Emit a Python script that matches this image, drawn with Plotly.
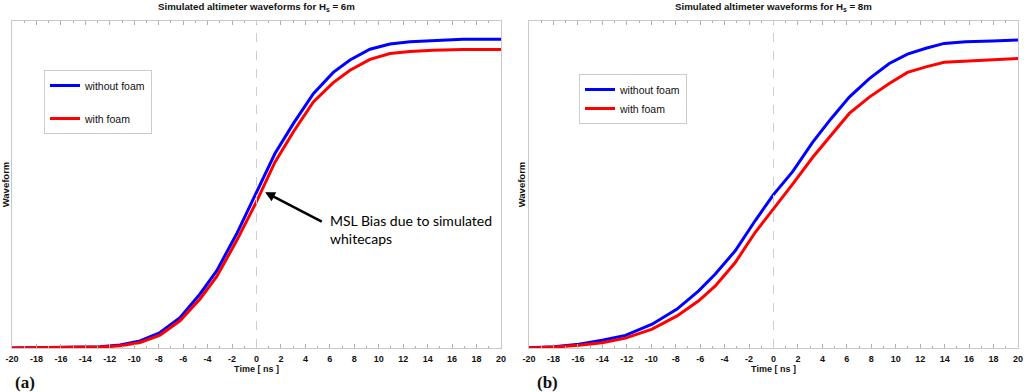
import plotly.graph_objects as go

# ---- data (panel a: Hs = 6 m) ----
t_a_blue = [-20, -16, -14, -12.8, -11.17, -9.53, -7.89, -6.26, -4.62, -3.26, -1.62, 0.0,
            1.51, 3.01, 4.65, 6.28, 7.65, 9.28, 10.92, 12.56, 14.44, 16.89, 20]
wf_a_blue = [0.0, 0.001, 0.002, 0.004, 0.010, 0.023, 0.050, 0.098, 0.175, 0.250, 0.370, 0.504,
             0.630, 0.727, 0.824, 0.893, 0.933, 0.968, 0.985, 0.992, 0.995, 1.0, 1.0]
t_a_red = [-20, -14, -12.8, -11.17, -9.53, -7.89, -6.26, -4.62, -3.26, -1.62, 0.0,
           1.51, 3.01, 4.65, 6.28, 7.65, 9.28, 10.92, 12.56, 14.44, 16.89, 20]
wf_a_red = [0.0, 0.002, 0.003, 0.007, 0.018, 0.042, 0.088, 0.159, 0.231, 0.348, 0.474,
            0.602, 0.700, 0.797, 0.860, 0.900, 0.935, 0.954, 0.961, 0.965, 0.967, 0.967]

# ---- data (panel b: Hs = 8 m) ----
t_b = [-20, -17.96, -15.92, -14.02, -12.11, -9.93, -7.89, -6.12, -4.76, -3.13, -1.49, 0.0,
       1.58, 3.21, 4.71, 6.20, 7.84, 9.47, 10.96, 12.47, 13.96, 15.73, 17.90, 20]
wf_b_blue = [0.001, 0.004, 0.012, 0.025, 0.041, 0.077, 0.126, 0.185, 0.240, 0.315, 0.413, 0.497,
             0.572, 0.667, 0.743, 0.813, 0.873, 0.922, 0.952, 0.971, 0.987, 0.992, 0.995, 0.998]
wf_b_red = [0.0, 0.003, 0.009, 0.017, 0.032, 0.061, 0.104, 0.153, 0.201, 0.277, 0.375, 0.450,
            0.532, 0.618, 0.689, 0.760, 0.813, 0.857, 0.893, 0.911, 0.926, 0.929, 0.935, 0.938]

series_names = ["without foam", "with foam"]
titles = ["Simulated altimeter waveforms for H<sub>s</sub> = 6m",
          "Simulated altimeter waveforms for H<sub>s</sub> = 8m"]
panel_labels = ["(a)", "(b)"]
tick_vals = list(range(-20, 21, 2))
tick_text = ["<b>%d</b>" % v for v in tick_vals]

BLUE = "#0000ff"
RED = "#ff0000"
FONT = "Liberation Sans, Arial, sans-serif"

fig = go.Figure()
fig.add_trace(go.Scatter(x=t_a_blue, y=wf_a_blue, mode="lines", name=series_names[0],
                         line=dict(color=BLUE, width=3), xaxis="x", yaxis="y",
                         legend="legend", legendgroup="a1"))
fig.add_trace(go.Scatter(x=t_a_red, y=wf_a_red, mode="lines", name=series_names[1],
                         line=dict(color=RED, width=3), xaxis="x", yaxis="y",
                         legend="legend", legendgroup="a2"))
fig.add_trace(go.Scatter(x=t_b, y=wf_b_blue, mode="lines", name=series_names[0],
                         line=dict(color=BLUE, width=3), xaxis="x2", yaxis="y2",
                         legend="legend2", legendgroup="b1"))
fig.add_trace(go.Scatter(x=t_b, y=wf_b_red, mode="lines", name=series_names[1],
                         line=dict(color=RED, width=3), xaxis="x2", yaxis="y2",
                         legend="legend2", legendgroup="b2"))

W, H = 1024, 392
ydom = [1 - 348 / H, 1 - 21 / H]
xdom1 = [12 / W, 501 / W]
xdom2 = [529 / W, 1018 / W]

def xaxis_cfg(dom, anchor):
    return dict(domain=dom, anchor=anchor, range=[-20, 20], tickmode="array",
                tickvals=tick_vals, ticktext=tick_text, ticks="inside", ticklen=4,
                tickcolor="#b0b0b0", showline=True, linecolor="#c8c8c8", linewidth=1,
                mirror="ticks", showgrid=False, zeroline=False,
                minor=dict(ticks="inside", ticklen=2, dtick=1, tickcolor="#b0b0b0"),
                tickfont=dict(family=FONT, size=9, color="#111"),
                ticklabeloverflow="allow",
                title=dict(text="<b>Time [ ns ]</b>", font=dict(family=FONT, size=9, color="#111"),
                           standoff=2),
                ticklabelstandoff=2, automargin=False)

def yaxis_cfg(anchor):
    return dict(domain=ydom, anchor=anchor, range=[0, 1.0595], showticklabels=False,
                ticks="", showline=True, linecolor="#c8c8c8", linewidth=1, mirror=True,
                showgrid=False, zeroline=False,
                title=dict(text="<b>Waveform</b>", font=dict(family=FONT, size=9.5, color="#111"),
                           standoff=0),
                automargin=False)

fig.update_layout(
    width=W, height=H, margin=dict(l=0, r=0, t=0, b=0),
    plot_bgcolor="white", paper_bgcolor="white",
    xaxis=xaxis_cfg(xdom1, "y"), yaxis=yaxis_cfg("x"),
    xaxis2=xaxis_cfg(xdom2, "y2"), yaxis2=yaxis_cfg("x2"),
    legend=dict(x=44 / W, y=1 - 70 / H, xanchor="left", yanchor="top",
                bordercolor="#cccccc", borderwidth=1, bgcolor="white",
                font=dict(family=FONT, size=10.5, color="#111"),
                traceorder="grouped", tracegroupgap=14, itemwidth=30,
                entrywidth=136, entrywidthmode="pixels"),
    legend2=dict(x=579 / W, y=1 - 74 / H, xanchor="left", yanchor="top",
                 bordercolor="#cccccc", borderwidth=1, bgcolor="white",
                 font=dict(family=FONT, size=10.5, color="#111"),
                 traceorder="grouped", tracegroupgap=0, itemwidth=30),
    showlegend=True,
)

# vertical dashed line at t = 0
for xr, yr in [("x", "y domain"), ("x2", "y2 domain")]:
    fig.add_shape(type="line", xref=xr, yref=yr, x0=0, x1=0, y0=0, y1=1,
                  line=dict(color="#cfcfcf", width=1, dash="dash"))

# titles
for i, dom in enumerate([xdom1, xdom2]):
    fig.add_annotation(xref="paper", yref="paper", x=(dom[0] + dom[1]) / 2, y=1 - 7 / H,
                       text="<b>" + titles[i] + "</b>", showarrow=False, xanchor="center",
                       font=dict(family=FONT, size=9.7, color="#111"), yanchor="middle")
# panel labels
fig.add_annotation(xref="paper", yref="paper", x=25 / W, y=1 - 382 / H, text="<b>" + panel_labels[0] + "</b>",
                   showarrow=False, xanchor="center", yanchor="middle",
                   font=dict(family="Liberation Serif, Times New Roman, serif", size=17, color="#111"))
fig.add_annotation(xref="paper", yref="paper", x=547 / W, y=1 - 382 / H, text="<b>" + panel_labels[1] + "</b>",
                   showarrow=False, xanchor="center", yanchor="middle",
                   font=dict(family="Liberation Serif, Times New Roman, serif", size=17, color="#111"))

# MSL bias annotation
fig.add_annotation(xref="x", yref="y", x=0.70, y=0.505, ax=5.46, ay=0.407, axref="x", ayref="y",
                   text="", showarrow=True, arrowhead=2, arrowsize=0.8, arrowwidth=2.5, arrowcolor="black")
fig.add_annotation(xref="x", yref="y", x=5.85, y=0.385, xanchor="left", yanchor="middle", align="left",
                   text="MSL Bias due to simulated<br>whitecaps", showarrow=False,
                   font=dict(family="Lato, Carlito, sans-serif", size=14, color="black"))

fig.write_html("out.html", config={"displayModeBar": False},
               post_script="document.body.style.margin='0px';document.body.style.padding='0px';")
